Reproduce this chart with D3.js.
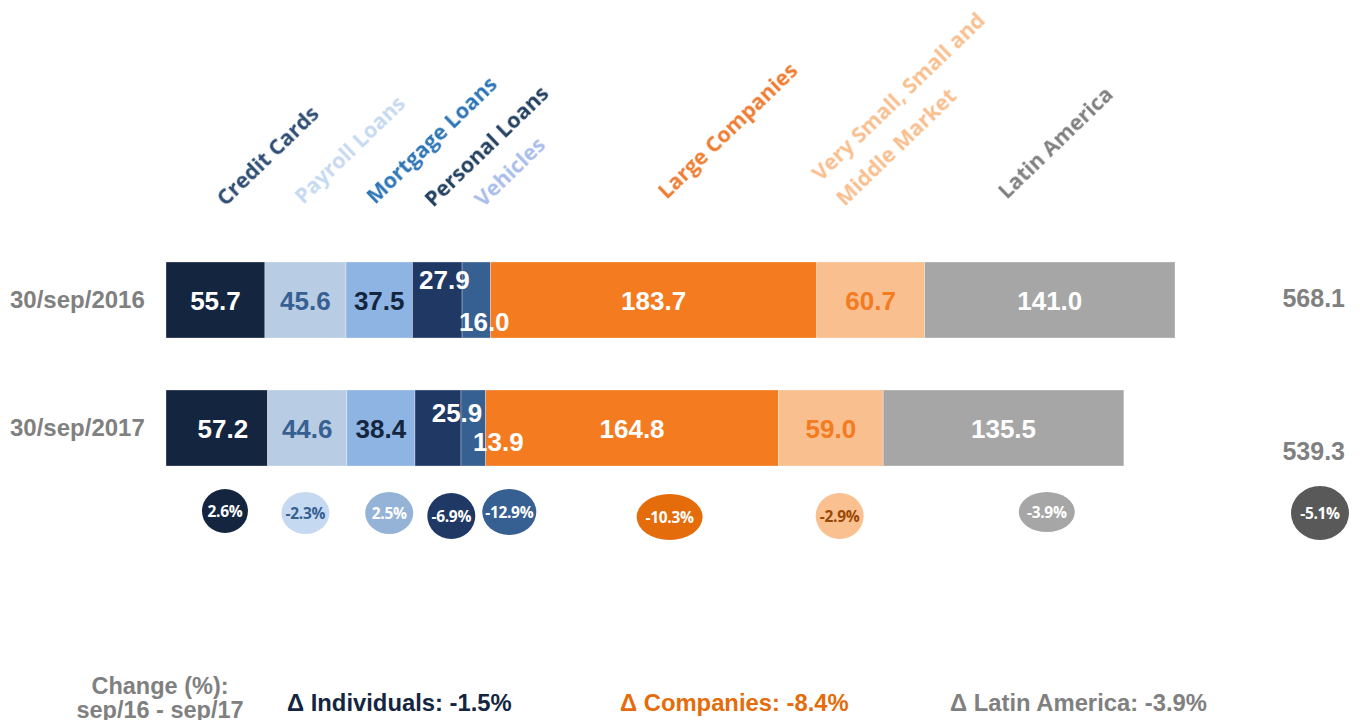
<!DOCTYPE html>
<html><head><meta charset="utf-8">
<script src="https://cdn.jsdelivr.net/npm/d3@7"></script>
<style>html,body{margin:0;padding:0;background:#fff;}svg{display:block;}</style>
</head><body>
<svg id="chart" width="1360" height="720"></svg>
<script>
// ---- data ----
const categories = ["Credit Cards","Payroll Loans","Mortgage Loans","Personal Loans","Vehicles","Large Companies","Very Small, Small and|Middle Market","Latin America"];
const periods = ["30/sep/2016","30/sep/2017"];
const values2016 = [55.7,45.6,37.5,27.9,16.0,183.7,60.7,141.0];
const values2017 = [57.2,44.6,38.4,25.9,13.9,164.8,59.0,135.5];
const totals = [568.1,539.3];
const changes = ["2.6%","-2.3%","2.5%","-6.9%","-12.9%","-10.3%","-2.9%","-3.9%"];
const totalChange = "-5.1%";
const groupTitle = ["Change (%):","sep/16 - sep/17"];
const groupChanges = ["\u0394 Individuals: -1.5%","\u0394 Companies: -8.4%","\u0394 Latin America: -3.9%"];

// ---- styles / layout ----
const barColors = ["#14263F","#B8CCE4","#8EB4E3","#203864","#376092","#F47B20","#F9BF8F","#A6A6A6"];
const valueColors = ["#ffffff","#376092","#14263F","#ffffff","#ffffff","#ffffff","#F47B20","#ffffff"];
const catColors = ["#2E4D73","#C5D9F1","#2E75B6","#243F60","#A9BCEB","#F07B30","#F9BF8F","#808080"];
const catDx = [10,-2,-4,-4,7,13,-50,-43];
const catY = [207,205,205,208,208,200,182,200];
const bubbleColors = ["#14263F","#C5D9F1","#95B3D7","#1F3864","#376092","#E46C0A","#FAC090","#A6A6A6"];
const bubbleText = ["#fff","#376092","#fff","#fff","#fff","#fff","#984807","#fff"];
const bubbleDx = [9.5,0,10,14,33,16,-31,-3];
const bubbleY = [511,513,513,516,512,517,516,512];
const bubbleR = [[23,22],[24,21],[24,21],[24,23],[27,23],[33,23],[24,23],[28,20]];
const groupColors = ["#14263F","#E46C0A","#808080"];

const svg = d3.select("#chart");
const x = d3.scaleLinear().domain([0, totals[0]]).range([166, 1175]);
const y = d3.scaleBand().domain(periods).range([262, 466]).paddingInner(52/128).paddingOuter(0);
const bh = y.bandwidth();

function stackRow(vals){let c=0;return vals.map((v,i)=>{const s={i,v,x0:c,x1:c+v};c+=v;return s;});}
const rows = [stackRow(values2016), stackRow(values2017)];
// label offsets for small segments [dx, dyFromCenter]
const labOff = [
  [[0,0],[0,0],[0,0],[7,-21],[8,21],[0,0],[0,0],[0,0]],
  [[6,0],[0,0],[0,0],[19,-16],[25,13],[0,0],[0,0],[0,0]]
];
const SANS = "'Liberation Sans',Arial,sans-serif";

rows.forEach((row,ri)=>{
  const g = svg.append("g");
  const yy = y(periods[ri]);
  g.selectAll("rect").data(row).enter().append("rect")
    .attr("x",d=>x(d.x0)).attr("y",yy).attr("width",d=>x(d.x1)-x(d.x0)).attr("height",bh)
    .attr("fill",d=>barColors[d.i]).attr("stroke","#ffffff").attr("stroke-opacity",0.5).attr("stroke-width",0.6);
  g.selectAll("text").data(row).enter().append("text")
    .attr("x",d=>(x(d.x0)+x(d.x1))/2 + labOff[ri][d.i][0])
    .attr("y",d=>yy+bh/2 + labOff[ri][d.i][1] + 9.5)
    .attr("text-anchor","middle")
    .attr("font-family",SANS).attr("font-weight","bold").attr("font-size",26)
    .attr("fill",d=>valueColors[d.i])
    .text(d=>d.v.toFixed(1));
  svg.append("text").attr("x",10).attr("y",yy+bh/2+8)
    .attr("font-family",SANS).attr("font-weight","bold").attr("font-size",24)
    .attr("fill","#808080").text(periods[ri]);
});

// totals
[307,460].forEach((ty,i)=>{
  svg.append("text").attr("x",1345).attr("y",ty).attr("text-anchor","end")
    .attr("font-family",SANS).attr("font-weight","bold").attr("font-size",25)
    .attr("fill","#808080").text(totals[i].toFixed(1));
});

// category labels (rotated)
const defs = svg.append("defs");
defs.append("filter").attr("id","soft").append("feGaussianBlur").attr("stdDeviation",0.6);
rows[0].forEach(d=>{
  const cx = (x(d.x0)+x(d.x1))/2 + catDx[d.i];
  const lines = categories[d.i].split("|");
  lines.forEach((ln,li)=>{
    svg.append("text")
      .attr("transform",`translate(${cx+li*24},${catY[d.i]+li*25}) rotate(-44)`)
      .attr("font-family","'Open Sans',sans-serif").attr("font-weight","bold").attr("font-size",21.5)
      .attr("fill",catColors[d.i]).attr("filter","url(#soft)")
      .text(ln);
  });
});

// bubbles
const bub = svg.append("g");
rows[0].forEach(d=>{
  const cx = (x(d.x0)+x(d.x1))/2 + bubbleDx[d.i];
  bub.append("ellipse").attr("cx",cx).attr("cy",bubbleY[d.i]).attr("rx",bubbleR[d.i][0]).attr("ry",bubbleR[d.i][1])
    .attr("fill",bubbleColors[d.i]);
  bub.append("text").attr("x",cx).attr("y",bubbleY[d.i]+5.5).attr("text-anchor","middle")
    .attr("font-family","'Open Sans',sans-serif").attr("font-weight","bold").attr("font-size",15.5)
    .attr("letter-spacing",-0.3)
    .attr("fill",bubbleText[d.i]).text(changes[d.i]);
});
const tcx = x(totals[0]) + 145;
bub.append("ellipse").attr("cx",tcx).attr("cy",513).attr("rx",29).attr("ry",27).attr("fill","#595959");
bub.append("text").attr("x",tcx).attr("y",519).attr("text-anchor","middle")
  .attr("font-family","'Open Sans',sans-serif").attr("font-weight","bold").attr("font-size",15.5)
  .attr("letter-spacing",-0.3)
  .attr("fill","#fff").text(totalChange);

// bottom summary
groupTitle.forEach((t,i)=>{
  svg.append("text").attr("x",160).attr("y",694+i*24).attr("text-anchor","middle")
    .attr("font-family",SANS).attr("font-weight","bold").attr("font-size",23.5)
    .attr("fill","#808080").text(t);
});
const gx = [287,620,950];
groupChanges.forEach((t,i)=>{
  svg.append("text").attr("x",gx[i]).attr("y",711)
    .attr("font-family",SANS).attr("font-weight","bold").attr("font-size",23.8)
    .attr("fill",groupColors[i]).text(t);
});
</script>
</body></html>
